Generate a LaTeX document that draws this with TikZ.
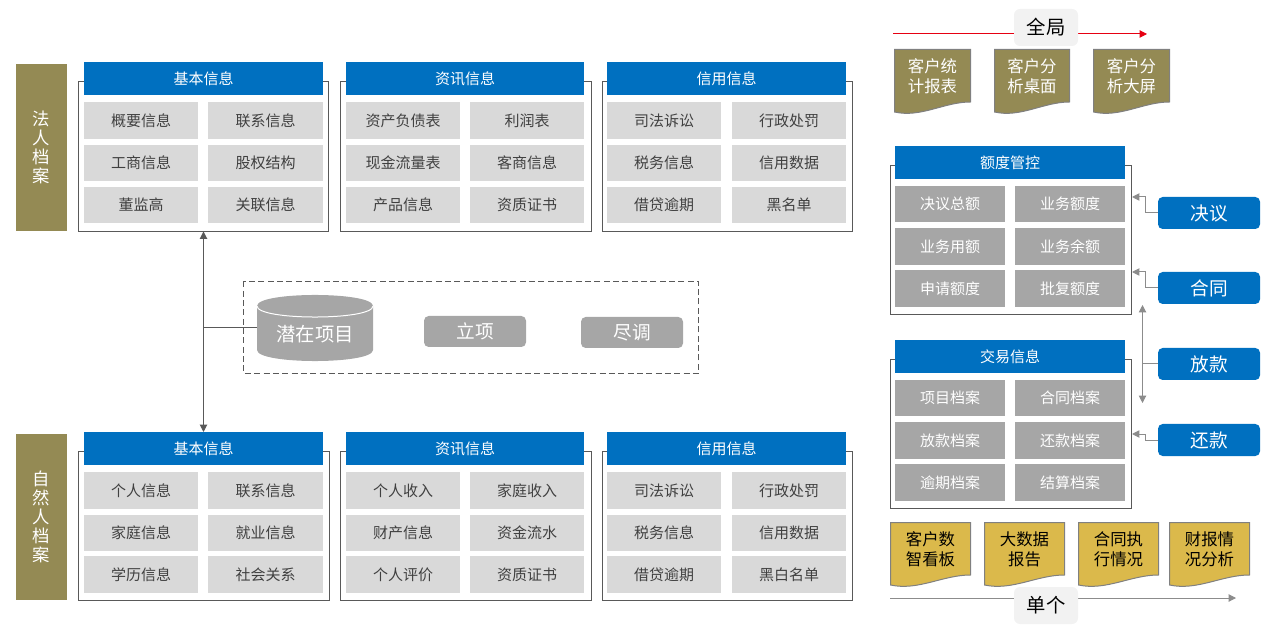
\documentclass[tikz,border=0pt]{standalone}
\usepackage{fontspec}
\usepackage{xcolor}
\usepackage{tikz}
\usetikzlibrary{arrows.meta}
\newfontfamily\cjk{Noto Sans CJK SC}
\definecolor{bluehead}{HTML}{0070C0}
\definecolor{graylight}{HTML}{D9D9D9}
\definecolor{graydark}{HTML}{A6A6A6}
\definecolor{olive}{HTML}{948A54}
\definecolor{gold}{HTML}{DBB94B}
\definecolor{frameline}{HTML}{595959}
\definecolor{linkline}{HTML}{8C8C8C}
\definecolor{redline}{HTML}{E60012}
\tikzset{
  flat/.style={inner sep=0pt, outer sep=0pt},
  frame/.style={flat, draw=frameline, line width=0.75pt},
  head/.style={flat, fill=bluehead, text=white, font=\cjk\fontsize{11.25}{14}\selectfont},
  itemlight/.style={flat, fill=graylight, text=black!75, font=\cjk\fontsize{11.25}{14}\selectfont},
  itemdark/.style={flat, fill=graydark, text=white, font=\cjk\fontsize{11.25}{14}\selectfont},
  sidelabel/.style={flat, fill=olive, text=white, align=center, font=\cjk\fontsize{13}{14.25}\selectfont},
  button/.style={flat, fill=bluehead, text=white, rounded corners=3.5pt, font=\cjk\fontsize{14}{16}\selectfont},
  stepbox/.style={flat, fill=graydark, text=white, rounded corners=3.5pt, font=\cjk\fontsize{14}{16}\selectfont},
  scopebox/.style={flat, fill=black!5, rounded corners=4.5pt, font=\cjk\fontsize{14.5}{16}\selectfont},
  doctext/.style={flat, align=center, font=\cjk\fontsize{12.3}{15}\selectfont},
  link/.style={line width=0.75pt, draw=linkline},
  tip/.style={-{Triangle[width=5.5pt,length=5.5pt]}},
  tiptwo/.style={{Triangle[width=5.5pt,length=5.5pt]}-{Triangle[width=5.5pt,length=5.5pt]}},
}
% box given by its corners, in pixels of the picture
\newcommand{\pbox}[7]{
  \node[#2, minimum width={(#5-#3)*0.75pt}, minimum height={(#6-#4)*0.75pt}] (#1) at ({(#3+#5)/2},{(#4+#6)/2}) {#7};
}
% two columns of items
\newcommand{\itemrows}[7]{
  \foreach \r/\ya/\yb/\ta/\tb in {#7} {
    \pbox{#1\r a}{#2}{#3}{\ya}{#4}{\yb}{\ta}
    \pbox{#1\r b}{#2}{#5}{\ya}{#6}{\yb}{\tb}
  }
}
% page with a wavy lower edge
\newcommand{\docpage}[7]{
  \draw[fill=#6, draw=black!50, line width=0.75pt] ({#2+0.5},{#4+0.5}) -- ({#3-0.5},{#4+0.5}) -- ({#3-0.5},{#5-13})
    .. controls ({#2+0.65*(#3-#2)},{#5-13}) and ({#2+0.35*(#3-#2)},{#5+3}) .. ({#2+0.5},{#5-3}) -- cycle;
  \node[doctext] (#1) at ({(#2+#3)/2},{#4+27.5}) {#7};
}
\begin{document}
\begin{tikzpicture}[x=0.75pt, y=-0.75pt]
\useasboundingbox (0,0) rectangle (1266,630);

% left side, upper row
\pbox{legal}{sidelabel}{16}{64}{67}{231}{法\\人\\档\\案}
\pbox{legalframeA}{frame}{78.5}{81.5}{328.5}{231.5}{}
\pbox{legalframeB}{frame}{340.5}{81.5}{591.5}{231.5}{}
\pbox{legalframeC}{frame}{602.5}{81.5}{852.5}{231.5}{}
\pbox{legalheadA}{head}{84}{62}{323}{95}{基本信息}
\pbox{legalheadB}{head}{346}{62}{584}{95}{资讯信息}
\pbox{legalheadC}{head}{607}{62}{846}{95}{信用信息}
\itemrows{legalA}{itemlight}{84}{198}{208}{323}{1/102/139/概要信息/联系信息, 2/145/181/工商信息/股权结构, 3/187/223/董监高/关联信息}
\itemrows{legalB}{itemlight}{346}{460}{470}{584}{1/102/139/资产负债表/利润表, 2/145/181/现金流量表/客商信息, 3/187/223/产品信息/资质证书}
\itemrows{legalC}{itemlight}{607}{721}{732}{846}{1/102/139/司法诉讼/行政处罚, 2/145/181/税务信息/信用数据, 3/187/223/借贷逾期/黑名单}

% left side, lower row
\pbox{person}{sidelabel}{16}{434}{67}{600}{自\\然\\人\\档\\案}
\pbox{personframeA}{frame}{78.5}{451.5}{329.5}{600.5}{}
\pbox{personframeB}{frame}{340.5}{451.5}{591.5}{600.5}{}
\pbox{personframeC}{frame}{602.5}{451.5}{852.5}{600.5}{}
\pbox{personheadA}{head}{84}{432}{323}{465}{基本信息}
\pbox{personheadB}{head}{346}{432}{584}{465}{资讯信息}
\pbox{personheadC}{head}{607}{432}{846}{465}{信用信息}
\itemrows{personA}{itemlight}{84}{198}{208}{323}{1/472/509/个人信息/联系信息, 2/515/551/家庭信息/就业信息, 3/556/593/学历信息/社会关系}
\itemrows{personB}{itemlight}{346}{460}{470}{584}{1/472/509/个人收入/家庭收入, 2/515/551/财产信息/资金流水, 3/556/593/个人评价/资质证书}
\itemrows{personC}{itemlight}{607}{721}{732}{846}{1/472/509/司法诉讼/行政处罚, 2/515/551/税务信息/信用数据, 3/556/593/借贷逾期/黑白名单}

% middle
\draw[frameline, line width=0.75pt, dash pattern=on 4.5pt off 2.5pt] (243.5,281.5) rectangle (698.5,373.5);
\fill[graydark] (257,306) .. controls (257,291.3) and (373,291.3) .. (373,306) -- (373,350)
  .. controls (373,364.7) and (257,364.7) .. (257,350) -- cycle;
\draw[white, line width=0.75pt] (257,306) .. controls (257,320.7) and (373,320.7) .. (373,306);
\node[flat, minimum width=87pt, minimum height=49.5pt] (project) at (315,328) {};
\node[flat, text=white, font=\cjk\fontsize{14.5}{16}\selectfont] (projectlabel) at (315,334) {潜在项目};
\pbox{setup}{stepbox}{424}{316}{526}{347}{立项}
\pbox{survey}{stepbox}{581}{317}{683}{348}{尽调}
\draw[frameline, line width=0.75pt, tiptwo] (legalframeA.south) -- (legalframeA.south |- personheadA.north);
\draw[frameline, line width=0.75pt] (project.west) -- (project.west -| legalframeA.south);

% right side, top
\coordinate (allstart) at (893,34);
\coordinate (allend) at (1147,34);
\draw[redline, line width=0.75pt, tip] (allstart) -- (allend);
\pbox{allscope}{scopebox}{1014}{9}{1078}{46}{全局}
\docpage{docA}{894}{971}{49}{115}{olive}{\textcolor{white}{客户统}\\\textcolor{white}{计报表}}
\docpage{docB}{994}{1070}{49}{115}{olive}{\textcolor{white}{客户分}\\\textcolor{white}{析桌面}}
\docpage{docC}{1093}{1170}{49}{115}{olive}{\textcolor{white}{客户分}\\\textcolor{white}{析大屏}}

% right side, quota
\pbox{quotaframe}{frame}{890.5}{165.5}{1131.5}{314.5}{}
\pbox{quotahead}{head}{895}{146}{1125}{179}{额度管控}
\itemrows{quota}{itemdark}{895}{1005}{1015}{1125}{1/186/222/决议总额/业务额度, 2/228/265/业务用额/业务余额, 3/270/307/申请额度/批复额度}

% right side, trade
\pbox{tradeframe}{frame}{890.5}{359.5}{1131.5}{508.5}{}
\pbox{tradehead}{head}{895}{340}{1125}{373}{交易信息}
\itemrows{trade}{itemdark}{895}{1005}{1015}{1125}{1/380/416/项目档案/合同档案, 2/422/459/放款档案/还款档案, 3/464/501/逾期档案/结算档案}

% right side, events
\pbox{resolve}{button}{1158}{197}{1260}{229}{决议}
\pbox{contract}{button}{1158}{272}{1260}{304}{合同}
\pbox{loan}{button}{1158}{348}{1260}{380}{放款}
\pbox{repay}{button}{1158}{424}{1260}{456}{还款}
\coordinate (resolveend) at (1132,197);
\coordinate (contractend) at (1132,272);
\coordinate (repayend) at (1132,434);
\coordinate (loantop) at (1142.5,305);
\coordinate (loanbottom) at (1142.5,403);
\draw[link, tip] (resolve.west) -- ++(-13,0) |- (resolveend);
\draw[link, tip] (contract.west) -- ++(-13,0) |- (contractend);
\draw[link, tip] (repay.west) -- ++(-13,0) |- (repayend);
\draw[link, tiptwo] (loantop) -- (loanbottom);
\draw[link] (loan.west) -- (loan.west -| loantop);

% right side, bottom
\docpage{docD}{890}{971}{522}{588}{gold}{客户数\\智看板}
\docpage{docE}{984}{1065}{522}{588}{gold}{大数据\\报告}
\docpage{docF}{1078}{1159}{522}{588}{gold}{合同执\\行情况}
\docpage{docG}{1169}{1250}{522}{588}{gold}{财报情\\况分析}
\coordinate (singlestart) at (890,598);
\coordinate (singleend) at (1236,598);
\draw[link, tip] (singlestart) -- (singleend);
\pbox{singlescope}{scopebox}{1014}{587}{1078}{624}{单个}
\end{tikzpicture}
\end{document}
